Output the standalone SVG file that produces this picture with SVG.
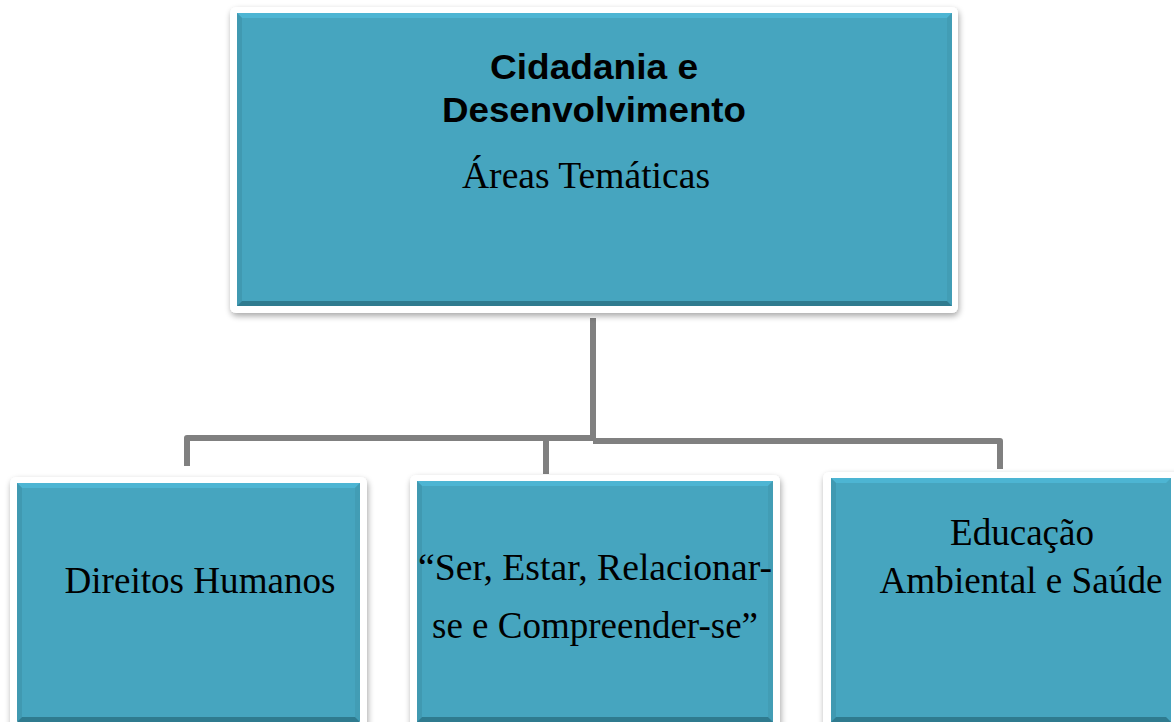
<svg xmlns="http://www.w3.org/2000/svg" width="1174" height="722" viewBox="0 0 1174 722">
<defs>
<filter id="sh" x="-10%" y="-10%" width="120%" height="120%">
<feGaussianBlur in="SourceAlpha" stdDeviation="3"/>
<feOffset dx="1" dy="3" result="b"/>
<feComponentTransfer><feFuncA type="linear" slope="0.35"/></feComponentTransfer>
<feMerge><feMergeNode/><feMergeNode in="SourceGraphic"/></feMerge>
</filter>
<style>
.frame{fill:#ffffff;filter:url(#sh)}
.face{fill:#46a5bf}
.bt{fill:#4db5d3}
.bl{fill:#4099b1}
.br{fill:#429db5}
.bb{fill:#2f7b8f}
.con{fill:none;stroke:#808080;stroke-width:6;stroke-linejoin:round}
.h{font-family:"Liberation Sans",Arial,sans-serif;font-weight:bold;font-size:35px;fill:#000;text-anchor:middle}
.t{font-family:"Liberation Serif","Times New Roman",serif;font-size:38px;fill:#000}
</style>
</defs>
<rect width="1174" height="722" fill="#ffffff"/>
<g id="connectors">
<path class="con" d="M593 318 V441"/>
<path class="con" d="M187 466 V438 H593"/>
<path class="con" d="M546 474 V438"/>
<path class="con" d="M593 441 H1000 V469"/>
</g>
<g id="node-top">
<rect class="frame" x="230" y="7" width="728" height="306" rx="6"/>
<rect class="face" x="237" y="13" width="715" height="293"/>
<polygon class="bt" points="237,13 952,13 947,18 242,18"/>
<polygon class="bl" points="237,13 242,18 242,301 237,306"/>
<polygon class="br" points="952,13 952,306 947,301 947,18"/>
<polygon class="bb" points="237,306 952,306 947,301 242,301"/>
<text class="h" x="594" y="79" textLength="208" lengthAdjust="spacingAndGlyphs">Cidadania e</text>
<text class="h" x="594" y="122" textLength="304" lengthAdjust="spacingAndGlyphs">Desenvolvimento</text>
<text class="t" x="586" y="188" text-anchor="middle" textLength="248" lengthAdjust="spacingAndGlyphs">Áreas Temáticas</text>
</g>
<g id="node-direitos">
<rect class="frame" x="10" y="477" width="357" height="260" rx="6"/>
<rect class="face" x="17" y="483" width="343" height="238"/>
<polygon class="bt" points="17,483 360,483 355,488 22,488"/>
<polygon class="bl" points="17,483 22,488 22,717 17,722"/>
<polygon class="br" points="360,483 360,722 355,717 355,488"/>
<polygon class="bb" points="17,722 360,722 355,717 22,717"/>
<text class="t" x="200" y="593" text-anchor="middle" textLength="271" lengthAdjust="spacingAndGlyphs">Direitos Humanos</text>
</g>
<g id="node-ser">
<rect class="frame" x="410" y="475" width="370" height="260" rx="6"/>
<rect class="face" x="417" y="481" width="356" height="241"/>
<polygon class="bt" points="417,481 773,481 768,486 422,486"/>
<polygon class="bl" points="417,481 422,486 422,717 417,722"/>
<polygon class="br" points="773,481 773,722 768,717 768,486"/>
<polygon class="bb" points="417,722 773,722 768,717 422,717"/>
<text class="t" x="595" y="580" text-anchor="middle" textLength="354" lengthAdjust="spacingAndGlyphs">“Ser, Estar, Relacionar-</text>
<text class="t" x="595" y="638" text-anchor="middle" textLength="326" lengthAdjust="spacingAndGlyphs">se e Compreender-se”</text>
</g>
<g id="node-educacao">
<rect class="frame" x="823" y="472" width="360" height="260" rx="6"/>
<rect class="face" x="831" y="478" width="340" height="244"/>
<polygon class="bt" points="831,478 1171,478 1166,483 836,483"/>
<polygon class="bl" points="831,478 836,483 836,717 831,722"/>
<polygon class="bb" points="831,722 1171,722 1166,717 836,717"/>
<text class="t" x="1022" y="545" text-anchor="middle" textLength="144" lengthAdjust="spacingAndGlyphs">Educação</text>
<text class="t" x="1021" y="593" text-anchor="middle" textLength="283" lengthAdjust="spacingAndGlyphs">Ambiental e Saúde</text>
</g>
</svg>
